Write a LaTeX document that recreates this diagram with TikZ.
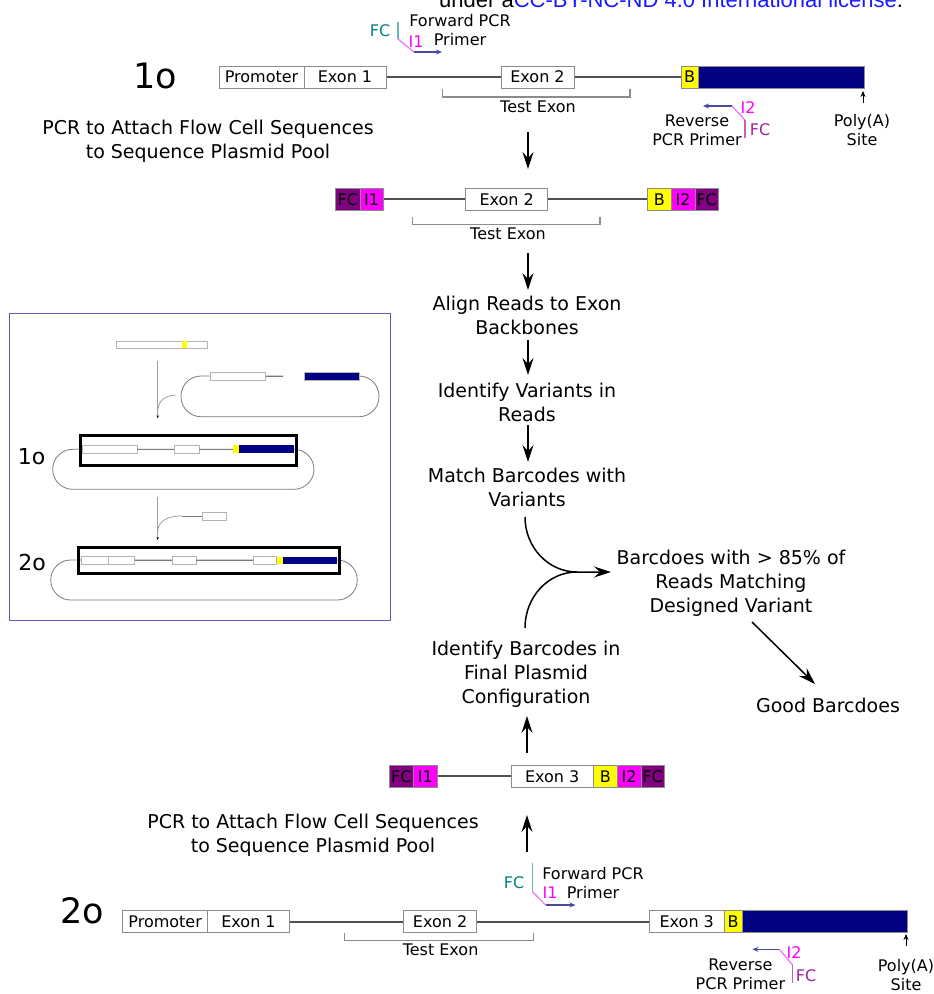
\documentclass[tikz,border=0pt]{standalone}
\usepackage{fontspec}
\setmainfont{DejaVu Sans}
\newfontfamily\licfont{Liberation Sans}
\usetikzlibrary{arrows.meta}
\definecolor{navyc}{HTML}{000080}
\definecolor{yel}{HTML}{FFFF00}
\definecolor{mag}{HTML}{FF00FF}
\definecolor{purp}{HTML}{800080}
\definecolor{tealc}{HTML}{008080}
\definecolor{tealL}{HTML}{66B8B8}
\definecolor{magL}{HTML}{F070F0}
\definecolor{navyL}{HTML}{4848A0}
\definecolor{purpL}{HTML}{C060C0}
\definecolor{fcpurp}{HTML}{A020A0}
\definecolor{boxgray}{HTML}{8C8C8C}
\definecolor{linegray}{HTML}{505050}
\definecolor{insetblue}{HTML}{5C5CB8}
\definecolor{licblue}{HTML}{1A1AFF}
\definecolor{ingray}{HTML}{B4B4B4}
\definecolor{brgray}{HTML}{A0A0A0}
\definecolor{plasgray}{HTML}{7A7A7A}
\newcommand\gb[6]{\node[gbox, fill=#5, minimum width={#3-#2}] (#1) at ({(#2+#3)/2},#4) {#6};}
\begin{document}
\begin{tikzpicture}[x=1pt,y=-1pt,
  gbox/.style={draw=boxgray, line width=1pt, inner sep=0pt, minimum height=22pt,
    text height=11.5pt, text depth=0pt, font=\fontsize{16}{18}\selectfont},
  txt/.style={font=\fontsize{19}{24}\selectfont, align=center, inner sep=0pt},
  sm/.style={font=\fontsize{16}{19}\selectfont, align=center, inner sep=0pt},
  big/.style={font=\fontsize{35}{40}\selectfont, inner sep=0pt},
  mid/.style={font=\fontsize{22}{26}\selectfont, inner sep=0pt},
  bb/.style={draw=linegray, line width=2pt},
  brk/.style={draw=boxgray, line width=1.2pt},
  arr/.style={line width=1.5pt, -{Stealth[length=17pt,width=11pt,inset=6pt]}},
  plain/.style={line width=1.5pt},
  small arr/.style={-{Stealth[length=6pt,width=5pt]}},
  inrect/.style={draw=ingray, line width=0.8pt, fill=white},
  inln/.style={draw=plasgray, line width=0.8pt},
  plas/.style={draw=plasgray, line width=0.8pt},
  pr/.style={line width=1.2pt}
]
\useasboundingbox (0,0) rectangle (934,994);
\clip (0,0) rectangle (934,994);

% license line
\node[anchor=base west, inner sep=0pt, font=\licfont\fontsize{22}{26}\selectfont] (lic) at (439,7)
  {under a\textcolor{licblue}{CC-BY-NC-ND 4.0 International license}.};

% ---------- Row 1 (1o) ----------
\node[big] (lab1o) at (155,76) {1o};
\gb{r1p}{219}{304}{77}{white}{Promoter}
\gb{r1e1}{304}{386}{77}{white}{Exon 1}
\gb{r1e2}{501}{574}{77}{white}{Exon 2}
\gb{r1b}{681}{698}{77}{yel}{B}
\gb{r1n}{698}{864}{77}{navyc}{}
\draw[bb] (r1e1.east) -- (r1e2.west);
\draw[bb] (r1e2.east) -- (r1b.west);
\draw[brk] (442.6,89) -- (442.6,97) -- (630,97) -- (630,89);
\node[sm] (r1te) at (538,107) {Test Exon};

% forward primer (top)
\coordinate (f1a) at (398,22); \coordinate (f1b) at (398,39);
\coordinate (f1c) at (414,52); \coordinate (f1d) at (442,52);
\draw[pr, tealL] (f1a) -- (f1b);
\draw[pr, magL] (f1b) -- (f1c);
\draw[pr, navyL, small arr] (f1c) -- (f1d);
\node[sm, text=tealc] (f1fc) at (380,31) {FC};
\node[sm, text=mag] (f1i1) at (416,42) {I1};
\node[sm] (f1t) at (460,30) {Forward PCR\\Primer};

% reverse primer (top)
\coordinate (q1a) at (703,106); \coordinate (q1b) at (732,106);
\coordinate (q1c) at (745,120); \coordinate (q1d) at (745,138);
\draw[pr, navyL, small arr] (q1b) -- (q1a);
\draw[pr, magL] (q1b) -- (q1c);
\draw[pr, purpL] (q1c) -- (q1d);
\node[sm, text=mag] (q1i2) at (748,108) {I2};
\node[sm, text=fcpurp] (q1fc) at (760,130) {FC};
\node[sm] (q1t) at (697,130) {Reverse\\PCR Primer};

% poly(A) top
\coordinate (pa1s) at (863,103); \coordinate (pa1e) at (863,91);
\draw[line width=0.8pt, small arr] (pa1s) -- (pa1e);
\node[sm] (pa1t) at (862,130) {Poly(A)\\Site};

% left text top
\node[txt] (pcr1) at (208,141) {PCR to Attach Flow Cell Sequences\\to Sequence Plasmid Pool};

% arrow to row 2
\coordinate (a1s) at (528,132); \coordinate (a1e) at (528,169);
\draw[arr] (a1s) -- (a1e);

% ---------- Row 2 ----------
\gb{r2f1}{335.7}{360}{199.3}{purp}{FC}
\gb{r2i1}{360}{383.3}{199.3}{mag}{I1}
\gb{r2e2}{465.7}{547.7}{199.3}{white}{Exon 2}
\gb{r2b}{647.7}{671}{199.3}{yel}{B}
\gb{r2i2}{671}{695}{199.3}{mag}{I2}
\gb{r2f2}{695}{718.3}{199.3}{purp}{FC}
\draw[bb] (r2i1.east) -- (r2e2.west);
\draw[bb] (r2e2.east) -- (r2b.west);
\draw[brk] (412.7,217) -- (412.7,224.3) -- (600,224.3) -- (600,217);
\node[sm] (r2te) at (508,234) {Test Exon};

% ---------- centre column ----------
\coordinate (a2s) at (528,253); \coordinate (a2e) at (528,290);
\draw[arr] (a2s) -- (a2e);
\node[txt] (align) at (527,315) {Align Reads to Exon\\Backbones};
\coordinate (a3s) at (528,340); \coordinate (a3e) at (528,375);
\draw[arr] (a3s) -- (a3e);
\node[txt] (ident) at (527,402) {Identify Variants in\\Reads};
\coordinate (a4s) at (528,425); \coordinate (a4e) at (528,462);
\draw[arr] (a4s) -- (a4e);
\node[txt] (match) at (527,487) {Match Barcodes with\\Variants};

\coordinate (c1s) at (525,517); \coordinate (cm) at (577,572);
\coordinate (ct) at (611,572); \coordinate (c2s) at (525,628);
\draw[arr] (c1s) .. controls (525,547) and (548,572) .. (cm) -- (ct);
\draw[plain] (c2s) .. controls (525,597) and (548,572) .. (cm);

\node[txt] (bc85) at (731,583.5) {Barcdoes with > 85\% of\\Reads Matching\\Designed Variant};
\coordinate (dgs) at (752,622); \coordinate (dge) at (815,684);
\draw[arr] (dgs) -- (dge);
\node[txt] (good) at (828,705) {Good Barcdoes};

\node[txt] (idbc) at (526,674) {Identify Barcodes in\\Final Plasmid\\Configuration};
\coordinate (a5s) at (527,753); \coordinate (a5e) at (527,716);
\draw[arr] (a5s) -- (a5e);

% ---------- Row 3 ----------
\gb{r3f1}{389.3}{413.3}{776.3}{purp}{FC}
\gb{r3i1}{413.3}{437.3}{776.3}{mag}{I1}
\gb{r3e3}{511}{593.3}{776.3}{white}{Exon 3}
\gb{r3b}{593.3}{617.3}{776.3}{yel}{B}
\gb{r3i2}{617.3}{641}{776.3}{mag}{I2}
\gb{r3f2}{641}{664.3}{776.3}{purp}{FC}
\draw[bb] (r3i1.east) -- (r3e3.west);

\coordinate (a6s) at (527,852); \coordinate (a6e) at (527,815);
\draw[arr] (a6s) -- (a6e);
\node[txt] (pcr2) at (313,835.5) {PCR to Attach Flow Cell Sequences\\to Sequence Plasmid Pool};

% ---------- Row 4 (2o) ----------
\node[big] (lab2o) at (82.5,911) {2o};
\gb{r4p}{122.9}{207.4}{921.5}{white}{Promoter}
\gb{r4e1}{207.4}{289.6}{921.5}{white}{Exon 1}
\gb{r4e2}{403.5}{476.6}{921.5}{white}{Exon 2}
\gb{r4e3}{649.3}{724.2}{921.5}{white}{Exon 3}
\gb{r4b}{724.2}{742.2}{921.5}{yel}{B}
\gb{r4n}{742.2}{907}{921.5}{navyc}{}
\draw[bb] (r4e1.east) -- (r4e2.west);
\draw[bb] (r4e2.east) -- (r4e3.west);
\draw[brk] (344.7,933) -- (344.7,940.7) -- (533.6,940.7) -- (533.6,933);
\node[sm] (r4te) at (440.6,950) {Test Exon};

% forward primer (bottom)
\coordinate (f2a) at (532.4,863); \coordinate (f2b) at (532.4,891.7);
\coordinate (f2c) at (545.6,905); \coordinate (f2d) at (575.5,905);
\draw[pr, tealL] (f2a) -- (f2b);
\draw[pr, magL] (f2b) -- (f2c);
\draw[pr, navyL, small arr] (f2c) -- (f2d);
\node[sm, text=tealc] (f2fc) at (514,883) {FC};
\node[sm, text=mag] (f2i1) at (550,893) {I1};
\node[sm] (f2t) at (593,883) {Forward PCR\\Primer};

% reverse primer (bottom)
\coordinate (q2a) at (752.4,949.3); \coordinate (q2b) at (779.4,949.3);
\coordinate (q2c) at (792.6,965); \coordinate (q2d) at (792.6,983.3);
\draw[pr, navyL, small arr] (q2b) -- (q2a);
\draw[pr, magL] (q2b) -- (q2c);
\draw[pr, purpL] (q2c) -- (q2d);
\node[sm, text=mag] (q2i2) at (794,953) {I2};
\node[sm, text=fcpurp] (q2fc) at (806,976) {FC};
\node[sm] (q2t) at (740.4,974) {Reverse\\PCR Primer};

% poly(A) bottom
\coordinate (pa2s) at (906,946); \coordinate (pa2e) at (906,934);
\draw[line width=0.8pt, small arr] (pa2s) -- (pa2e);
\node[sm] (pa2t) at (906,975) {Poly(A)\\Site};

% ---------- Inset ----------
\draw[insetblue, line width=1pt] (9.3,313) rectangle (390,620);
% fragment
\draw[inrect] (116.7,341) rectangle (207.3,348.3);
\fill[yel] (181.7,341.4) rectangle (186.7,347.9);
% branch 1
\draw[draw=brgray, line width=1pt, -{Stealth[length=3pt,width=2.5pt,color=black]}] (157.7,360.7) -- (157.7,418.3);
\draw[draw=brgray, line width=0.8pt] (175.7,395) .. controls (163,396) and (157.7,402) .. (157.7,412);
% plasmid top right
\draw[plas, rounded corners=20pt] (283.3,376) -- (181,376) -- (181,416.7) -- (379,416.7) -- (379,376) -- (304.3,376);
\draw[inrect] (210.7,372.3) rectangle (265.7,380.3);
\draw[inln] (265.7,376) -- (283.3,376);
\draw[draw=ingray, line width=0.8pt, fill=navyc] (304.3,372.3) rectangle (359,380.3);
% plasmid 1o
\node[mid] (in1o) at (31.5,456.7) {1o};
\draw[plas, rounded corners=20pt] (52.7,449.3) rectangle (314,489.3);
\draw[inrect] (82.7,445.3) rectangle (137.3,453.3);
\draw[inln] (137.3,449.3) -- (174.3,449.3);
\draw[inrect] (174.3,445.3) rectangle (199,453.3);
\draw[inln] (199,449.3) -- (233.3,449.3);
\fill[yel] (233.3,445.3) rectangle (239.3,453.3);
\fill[navyc] (239.3,445.3) rectangle (294,453.3);
\draw[line width=3pt] (80.3,435) rectangle (296.3,465);
% branch 2
\draw[draw=brgray, line width=1pt, -{Stealth[length=3pt,width=2.5pt,color=black]}] (157.7,497.3) -- (157.7,540);
\draw[draw=brgray, line width=0.8pt] (181.7,516) .. controls (166,516) and (157.7,522) .. (157.7,532);
\draw[inln] (181.7,516) -- (202.7,516);
\draw[inrect] (202.7,512.3) rectangle (226.7,520);
% plasmid 2o
\node[mid] (in2o) at (32,562) {2o};
\draw[plas, rounded corners=20pt] (50.7,560) rectangle (357.3,600);
\draw[inrect] (81,556.7) rectangle (108.3,564.3);
\draw[inrect] (108.3,556.7) rectangle (134.7,564.3);
\draw[inln] (134.7,560) -- (172.3,560);
\draw[inrect] (172.3,556.7) rectangle (196.3,564.3);
\draw[inln] (196.3,560) -- (253.3,560);
\draw[inrect] (253.3,556.7) rectangle (276.7,564.3);
\fill[yel] (276.7,556.7) rectangle (282.7,564.3);
\fill[navyc] (282.7,556.7) rectangle (337.3,564.3);
\draw[line width=3pt] (78.3,547.3) rectangle (339.3,573.3);
\end{tikzpicture}
\end{document}
